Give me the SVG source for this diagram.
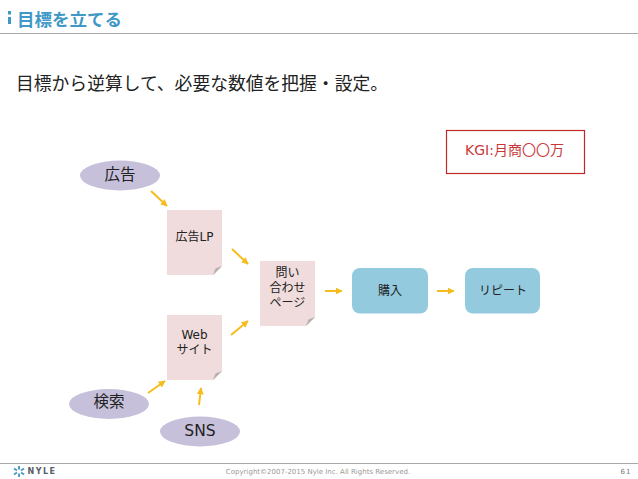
<svg xmlns="http://www.w3.org/2000/svg" width="638" height="479" viewBox="0 0 638 479">
<defs>
<marker id="ah" viewBox="0 0 10 10" refX="9" refY="5" markerWidth="7" markerHeight="7" markerUnits="userSpaceOnUse" orient="auto"><path d="M0 0L10 5L0 10Z" fill="#f4bd1c"/></marker>
<g id="curl"><path d="M-9 0.500L0.500 -9V0.500Z" fill="#fff"/><path d="M-9 0L0 -9L-6.500 -6.500Z" fill="#b5b0ae"/></g>
</defs>
<style>
text{font-family:"DejaVu Sans","Noto Sans CJK JP",sans-serif;fill:#222;text-anchor:middle}
.conn line{stroke:#f4bd1c;stroke-width:2;marker-end:url(#ah)}
.oval{fill:#c6c0da}
.note{fill:#f0dcdc}
.box{fill:#93cade}
.rule{stroke:#a8a8a8;stroke-width:1}
</style>
<rect width="638" height="479" fill="#fff"/>
<g id="header">
<rect x="8" y="11" width="3" height="3.500" fill="#3c9ac6"/><rect x="8" y="17" width="3" height="7" fill="#3c9ac6"/>
<text x="17" y="25.500" font-size="17.500" font-weight="700" style="fill:#3f98c6;text-anchor:start">目標を立てる</text>
<line class="rule" x1="0" y1="33.500" x2="638" y2="33.500"/>
</g>
<text id="subtitle" x="16" y="90" font-size="17.800" style="text-anchor:start">目標から逆算して、必要な数値を把握・設定。</text>
<g id="kgi"><rect x="446.500" y="130.500" width="138" height="43" fill="#fff" stroke="#c0282c" stroke-width="1.200"/><text x="514.500" y="155" font-size="14" style="fill:#c8383a">KGI:月商〇〇万</text></g>
<g class="conn" id="connectors">
<line x1="151" y1="191" x2="167" y2="206"/>
<line x1="232" y1="249" x2="248" y2="264"/>
<line x1="231" y1="335" x2="248" y2="321"/>
<line x1="148" y1="393" x2="165" y2="381"/>
<line x1="199" y1="405" x2="201" y2="388"/>
<line x1="325" y1="291" x2="342" y2="291"/>
<line x1="437" y1="291" x2="454" y2="291"/>
</g>
<g id="n-ad"><ellipse class="oval" cx="120" cy="175.500" rx="40" ry="15"/><text x="120" y="180" font-size="15.500">広告</text></g>
<g id="n-lp"><rect class="note" x="167" y="210" width="55" height="65"/><use href="#curl" x="222" y="275"/><text x="194.500" y="241" font-size="12">広告LP</text></g>
<g id="n-web"><rect class="note" x="167" y="315" width="55" height="65"/><use href="#curl" x="222" y="380"/><text x="194.500" font-size="12"><tspan x="194.500" y="338.500">Web</tspan><tspan x="194.500" y="353.500">サイト</tspan></text></g>
<g id="n-inq"><rect class="note" x="260" y="261" width="55" height="65"/><use href="#curl" x="315" y="326"/><text font-size="12"><tspan x="287.500" y="277">問い</tspan><tspan x="287.500" y="292">合わせ</tspan><tspan x="287.500" y="307">ページ</tspan></text></g>
<g id="n-buy"><rect class="box" x="352" y="268" width="76" height="45.500" rx="8"/><text x="390" y="294.500" font-size="12">購入</text></g>
<g id="n-repeat"><rect class="box" x="465" y="268" width="75" height="45.500" rx="8"/><text x="503" y="294.500" font-size="12">リピート</text></g>
<g id="n-search"><ellipse class="oval" cx="109" cy="404" rx="40" ry="15"/><text x="109" y="407" font-size="15.500">検索</text></g>
<g id="n-sns"><ellipse class="oval" cx="200" cy="431.500" rx="40" ry="15"/><text x="200" y="436" font-size="15.500">SNS</text></g>
<g id="footer">
<line class="rule" x1="0" y1="463.500" x2="638" y2="463.500"/>
<g stroke="#4d9dc8" stroke-width="2"><line x1="19" y1="466" x2="19" y2="469.500"/><line x1="19" y1="473.500" x2="19" y2="477"/><line x1="14" y1="468.500" x2="17" y2="470.500"/><line x1="21" y1="472.500" x2="24" y2="474.500"/><line x1="14" y1="474.500" x2="17" y2="472.500"/><line x1="21" y1="470.500" x2="24" y2="468.500"/></g>
<text x="42" y="474" font-size="8" font-weight="700" letter-spacing="1.500" style="fill:#55606a">NYLE</text>
<text x="318" y="474" font-size="7" style="fill:#999">Copyright©2007-2015 Nyle Inc. All Rights Reserved.</text>
<text x="626" y="474" font-size="7" letter-spacing="1" style="fill:#777">61</text>
</g>
</svg>
